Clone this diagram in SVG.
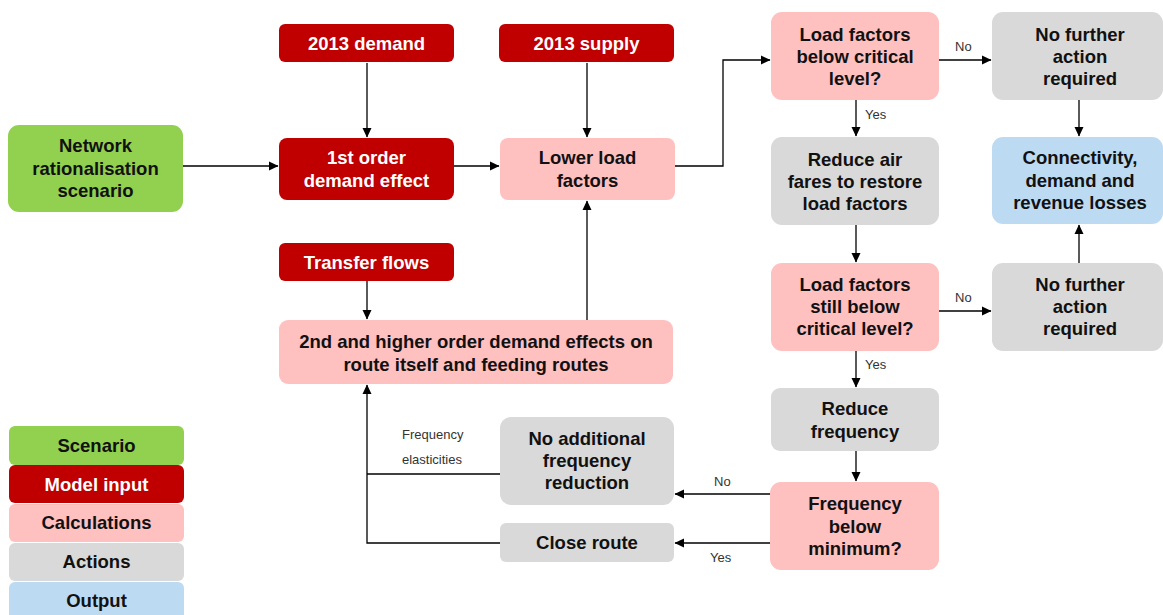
<svg xmlns="http://www.w3.org/2000/svg" width="1163" height="615" viewBox="0 0 1163 615">
<style>
.t{font-family:"Liberation Sans",Arial,sans-serif;font-weight:bold;font-size:18.5px;text-anchor:middle;fill:#111}
.w{fill:#fff}
.l{font-family:"Liberation Sans",Arial,sans-serif;font-size:13px;fill:#333}
.green{fill:#92D050}.red{fill:#C00000}.pink{fill:#FFC0C0}.gray{fill:#D9D9D9}.blue{fill:#BDDAF3}
.c{fill:none;stroke:#000;stroke-width:1.3}
</style>
<defs>
<marker id="a" markerWidth="10" markerHeight="10" refX="9" refY="5" orient="auto" markerUnits="userSpaceOnUse">
<path d="M0,0.5 L9.5,5 L0,9.5 Z" fill="#000"/>
</marker>
</defs>
<rect width="1163" height="615" fill="#fff"/>
<g id="connectors">
<path class="c" d="M183,166 H278" marker-end="url(#a)"/>
<path class="c" d="M367,63 V137" marker-end="url(#a)"/>
<path class="c" d="M454,166 H499" marker-end="url(#a)"/>
<path class="c" d="M587,63 V137" marker-end="url(#a)"/>
<path class="c" d="M675,166 H723 V60 H770" marker-end="url(#a)"/>
<path class="c" d="M939,60 H991" marker-end="url(#a)"/>
<path class="c" d="M856,100 V136" marker-end="url(#a)"/>
<path class="c" d="M1079,100 V136" marker-end="url(#a)"/>
<path class="c" d="M856,225 V262" marker-end="url(#a)"/>
<path class="c" d="M939,311 H991" marker-end="url(#a)"/>
<path class="c" d="M1079,263 V225" marker-end="url(#a)"/>
<path class="c" d="M856,351 V387" marker-end="url(#a)"/>
<path class="c" d="M856,451 V481" marker-end="url(#a)"/>
<path class="c" d="M770,494 H675" marker-end="url(#a)"/>
<path class="c" d="M770,543 H675" marker-end="url(#a)"/>
<path class="c" d="M500,474 H367"/>
<path class="c" d="M500,543 H367 V385" marker-end="url(#a)"/>
<path class="c" d="M367,281 V319" marker-end="url(#a)"/>
<path class="c" d="M587,320 V201" marker-end="url(#a)"/>
<text class="l" x="955" y="51">No</text>
<text class="l" x="865" y="119">Yes</text>
<text class="l" x="955" y="302">No</text>
<text class="l" x="865" y="369">Yes</text>
<text class="l" x="714" y="486">No</text>
<text class="l" x="710" y="562">Yes</text>
<text class="l" x="402" y="439">Frequency</text>
<text class="l" x="402" y="464">elasticities</text>
</g>
<g id="n-scenario"><rect class="green" x="8" y="125" width="175" height="87" rx="11"/>
<text class="t" x="95.5" y="152">Network</text><text class="t" x="95.5" y="175">rationalisation</text><text class="t" x="95.5" y="197">scenario</text></g>
<g id="n-demand2013"><rect class="red" x="279" y="24" width="175" height="38" rx="6"/>
<text class="t w" x="366.5" y="50">2013 demand</text></g>
<g id="n-supply2013"><rect class="red" x="499" y="24" width="175" height="38" rx="6"/>
<text class="t w" x="586.5" y="50">2013 supply</text></g>
<g id="n-first"><rect class="red" x="279" y="138" width="175" height="62" rx="8"/>
<text class="t w" x="366.5" y="164">1st order</text><text class="t w" x="366.5" y="187">demand effect</text></g>
<g id="n-lower"><rect class="pink" x="500" y="138" width="175" height="62" rx="8"/>
<text class="t" x="587.5" y="164">Lower load</text><text class="t" x="587.5" y="187">factors</text></g>
<g id="n-lf1"><rect class="pink" x="771" y="12" width="168" height="88" rx="11"/>
<text class="t" x="855" y="41">Load factors</text><text class="t" x="855" y="63">below critical</text><text class="t" x="855" y="85">level?</text></g>
<g id="n-nfa1"><rect class="gray" x="992" y="12" width="171" height="88" rx="11"/>
<text class="t" x="1080" y="41">No further</text><text class="t" x="1080" y="63">action</text><text class="t" x="1080" y="85">required</text></g>
<g id="n-reduceair"><rect class="gray" x="771" y="137" width="168" height="88" rx="11"/>
<text class="t" x="855" y="166">Reduce air</text><text class="t" x="855" y="188">fares to restore</text><text class="t" x="855" y="210">load factors</text></g>
<g id="n-conn"><rect class="blue" x="992" y="137" width="171" height="87" rx="11"/>
<text class="t" x="1080" y="164">Connectivity,</text><text class="t" x="1080" y="187">demand and</text><text class="t" x="1080" y="209">revenue losses</text></g>
<g id="n-transfer"><rect class="red" x="279" y="243" width="175" height="38" rx="6"/>
<text class="t w" x="366.5" y="269">Transfer flows</text></g>
<g id="n-second"><rect class="pink" x="279" y="320" width="394" height="64" rx="9"/>
<text class="t" x="476" y="348">2nd and higher order demand effects on</text><text class="t" x="476" y="371">route itself and feeding routes</text></g>
<g id="n-lf2"><rect class="pink" x="771" y="263" width="168" height="88" rx="11"/>
<text class="t" x="855" y="291">Load factors</text><text class="t" x="855" y="313">still below</text><text class="t" x="855" y="335">critical level?</text></g>
<g id="n-nfa2"><rect class="gray" x="992" y="263" width="171" height="88" rx="11"/>
<text class="t" x="1080" y="291">No further</text><text class="t" x="1080" y="313">action</text><text class="t" x="1080" y="335">required</text></g>
<g id="n-redfreq"><rect class="gray" x="771" y="388" width="168" height="63" rx="9"/>
<text class="t" x="855" y="415">Reduce</text><text class="t" x="855" y="438">frequency</text></g>
<g id="n-freqmin"><rect class="pink" x="770" y="482" width="169" height="88" rx="11"/>
<text class="t" x="855" y="510">Frequency</text><text class="t" x="855" y="533">below</text><text class="t" x="855" y="555">minimum?</text></g>
<g id="n-noadd"><rect class="gray" x="500" y="417" width="174" height="88" rx="11"/>
<text class="t" x="587" y="445">No additional</text><text class="t" x="587" y="467">frequency</text><text class="t" x="587" y="489">reduction</text></g>
<g id="n-close"><rect class="gray" x="500" y="523" width="174" height="39" rx="6"/>
<text class="t" x="587" y="549">Close route</text></g>
<g id="legend">
<rect class="green" x="9" y="426" width="175" height="39" rx="6"/>
<text class="t" x="96.5" y="452">Scenario</text>
<rect class="red" x="9" y="465" width="175" height="38" rx="6"/>
<text class="t w" x="96.5" y="491">Model input</text>
<rect class="pink" x="9" y="504" width="175" height="38" rx="6"/>
<text class="t" x="96.5" y="529">Calculations</text>
<rect class="gray" x="9" y="543" width="175" height="38" rx="6"/>
<text class="t" x="96.5" y="568">Actions</text>
<rect class="blue" x="9" y="582" width="175" height="40" rx="6"/>
<text class="t" x="96.5" y="607">Output</text>
</g>
</svg>
